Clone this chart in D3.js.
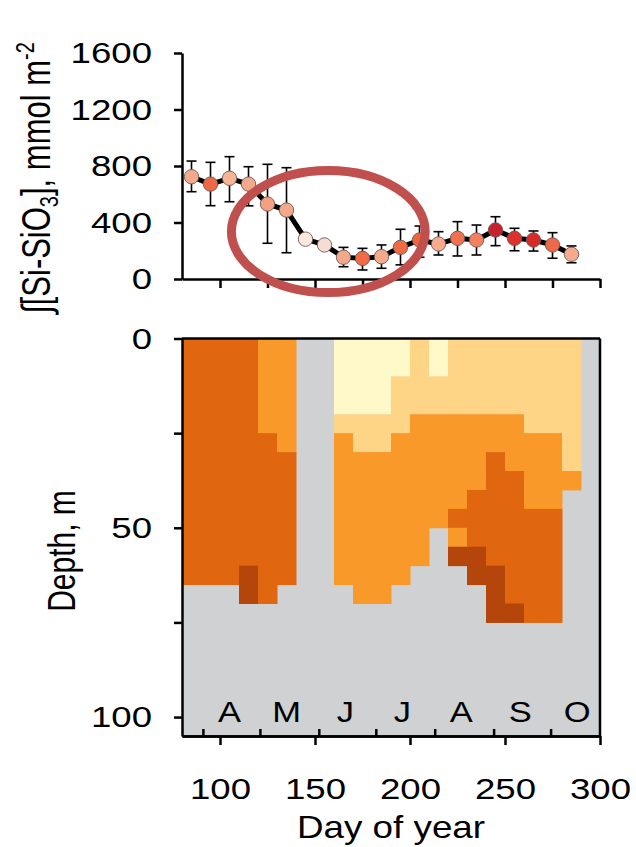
<!DOCTYPE html>
<html><head><meta charset="utf-8">
<script src="https://cdn.jsdelivr.net/npm/d3@7/dist/d3.min.js"></script>
<style>
body{margin:0;background:#fff}
text{font-family:"Liberation Sans",Arial,Helvetica,sans-serif;fill:#000}
</style>
</head><body>
<svg id="chart" width="636" height="847"></svg>
<script>
// ---------- data ----------
const sampleDays = [85,95,105,115,125,135,145,155,165,175,185,195,205,215,225,235,245,255,265,275,285];
const siValues   = [724,672,713,672,531,488,282,241,154,146,158,224,276,248,288,276,347,288,276,241,175];
const siErrHigh  = [835,826,866,795,812,788,282,241,224,217,241,352,375,335,406,382,441,359,340,328,234];
const siErrLow   = [618,519,547,518,253,186,282,241,87,64,76,100,154,170,163,170,236,200,198,147,115];
const pointColors = ["#F5A98B","#EE6848","#F6B496","#F5A98B","#F5A080","#F5A98B","#FBE9DD","#F6DDD4",
  "#F5A78A","#F16A45","#F5AA8C","#F06A46","#F0653F","#F5AB8C","#F0704F","#F4805F","#C8202C","#DE302F",
  "#D82A2A","#EF684A","#F5AA8C"];
const siTicks = [0,400,800,1200,1600];
const topDayTicks = [100,125,150,175,200,225,250,275,300];
const dayTicks = [100,150,200,250,300];
const monthLabels = ["A","M","J","J","A","S","O"];
const monthMidDays = [105,135,166,196,227,258,288];
const monthStartDays = [91,121,152,182,213,244,274];
const depthTicks = [0,25,50,75,100];
const depthLabels = [0,50,100];
// profile columns: one per 10-day bin, rows of 5 m (0-80 m)
// '.' no data, '1' pale, '2' tan, '3' orange, '4' dark orange, '5' darkest
const profileDays = [85,95,105,115,125,135,145,155,165,175,185,195,205,215,225,235,245,255,265,275,285,295];
const profileClasses = [
  "4444444444444...",
  "4444444444444...",
  "4444444444444...",
  "44444444444455..",
  "33333444444444..",
  "3333334444444...",
  "................",
  "................",
  "1111233333333...",
  "11112233333333..",
  "11112233333333..",
  "1122233333333...",
  "222233333333....",
  "1122333333......",
  "222233333435....",
  "2222333344455...",
  "222233444444555.",
  "222233344444445.",
  "222223333444444.",
  "222223333444444.",
  "22222223........",
  "................"
];
const classColors = {"1":"#FFF9CA","2":"#FED487","3":"#F9992A","4":"#E0660F","5":"#B4460B"};
const rowDepth = 5;

// ---------- layout ----------
const SX = 1.15, SXT = 1.22, SXR = 1.3;
const svg = d3.select("#chart");
const x = d3.scaleLinear().domain([80,300]).range([182,600]);
const ySi = d3.scaleLinear().domain([0,1600]).range([279,53]);
const yD = d3.scaleLinear().domain([0,105]).range([338.5,736]);

function stretchTicks(g){
  g.selectAll(".tick text").each(function(){
    const t = d3.select(this);
    const tx = +t.attr("x") || 0, ty = +t.attr("y") || 0;
    t.attr("x",0).attr("y",0).attr("transform",`translate(${tx},${ty}) scale(${SXT},1)`);
  });
}
function styleAxis(g,size){
  g.select(".domain").attr("stroke","#000").attr("stroke-width",2.5);
  g.selectAll(".tick line").attr("stroke","#000").attr("stroke-width",2.5);
  g.selectAll(".tick text").attr("font-size",size).attr("fill","#000")
   .attr("font-family",'"Liberation Sans",Arial,sans-serif');
}

// ---------- top panel ----------
const topPanel = svg.append("g");
topPanel.append("path").datum(sampleDays.map((d,i)=>[d,siValues[i]]))
  .attr("d", d3.line().x(d=>x(d[0])).y(d=>ySi(d[1])))
  .attr("fill","none").attr("stroke","#000").attr("stroke-width",5).attr("stroke-linejoin","round");
const eb = topPanel.append("g").attr("stroke","#000").attr("stroke-width",1.6);
sampleDays.forEach((d,i)=>{
  if (siErrHigh[i]-siErrLow[i] < 1) return;
  eb.append("line").attr("x1",x(d)).attr("x2",x(d)).attr("y1",ySi(siErrHigh[i])).attr("y2",ySi(siErrLow[i]));
  eb.append("line").attr("x1",x(d)-5).attr("x2",x(d)+5).attr("y1",ySi(siErrHigh[i])).attr("y2",ySi(siErrHigh[i]));
  eb.append("line").attr("x1",x(d)-5).attr("x2",x(d)+5).attr("y1",ySi(siErrLow[i])).attr("y2",ySi(siErrLow[i]));
});
topPanel.selectAll("circle.pt").data(sampleDays).join("circle").attr("class","pt")
  .attr("cx",d=>x(d)).attr("cy",(d,i)=>ySi(siValues[i])).attr("r",7.2)
  .attr("fill",(d,i)=>pointColors[i]).attr("stroke","#6a5a55").attr("stroke-width",0.9);
const topY = topPanel.append("g").attr("transform",`translate(${x(80)},0)`)
  .call(d3.axisLeft(ySi).tickValues(siTicks).tickSize(8).tickPadding(22).tickSizeOuter(0).tickFormat(d3.format("d")));
styleAxis(topY,30); stretchTicks(topY);
const topX = topPanel.append("g").attr("transform",`translate(0,${ySi(0)})`)
  .call(d3.axisBottom(x).tickValues(topDayTicks).tickSize(9).tickFormat("").tickSizeOuter(0));
styleAxis(topX,30);
const yt = svg.append("text").attr("font-size",31)
  .attr("transform",`translate(50,178) scale(${SXR},1) rotate(-90)`).attr("text-anchor","middle");
yt.append("tspan").text("∫[Si-SiO");
yt.append("tspan").text("3").attr("font-size",20).attr("dy",6);
yt.append("tspan").text("], mmol m").attr("dy",-6);
yt.append("tspan").text("-2").attr("font-size",20).attr("dy",-12);

// highlight ring
svg.append("ellipse")
  .attr("cx",x(157)).attr("cy",ySi(336))
  .attr("rx",x(157+51)-x(157)).attr("ry",ySi(0)-ySi(432))
  .attr("fill","none").attr("stroke","#C0504D").attr("stroke-width",9);

// ---------- bottom panel ----------
const bot = svg.append("g");
bot.append("rect").attr("x",x(80)).attr("y",yD(0)).attr("width",x(300)-x(80)).attr("height",yD(105)-yD(0))
  .attr("fill","#CFD1D3");
profileDays.forEach((d,ci)=>{
  const s = profileClasses[ci];
  let r = 0;
  while (r < s.length){
    const c = s[r]; let e = r;
    while (e+1 < s.length && s[e+1] === c) e++;
    if (classColors[c]){
      bot.append("rect").attr("x",x(d-5)).attr("width",x(d+5)-x(d-5)+0.5)
        .attr("y",yD(r*rowDepth)).attr("height",yD((e+1)*rowDepth)-yD(r*rowDepth)+0.5)
        .attr("fill",classColors[c]);
    }
    r = e+1;
  }
});
bot.append("line").attr("x1",x(80)).attr("x2",x(300)).attr("y1",yD(0)).attr("y2",yD(0)).attr("stroke","#000").attr("stroke-width",2.5);
bot.append("line").attr("x1",x(300)).attr("x2",x(300)).attr("y1",yD(0)).attr("y2",yD(105)).attr("stroke","#000").attr("stroke-width",2.5);
bot.selectAll("text.mon").data(monthLabels).join("text").attr("class","mon")
  .attr("font-size",30).attr("text-anchor","middle")
  .attr("transform",(d,i)=>`translate(${x(monthMidDays[i])},722) scale(${SX},1)`).text(d=>d);
const botMonth = bot.append("g").attr("transform",`translate(0,${yD(105)})`)
  .call(d3.axisTop(x).tickValues(monthStartDays).tickSize(7).tickFormat("").tickSizeOuter(0));
styleAxis(botMonth,30);
const botX = bot.append("g").attr("transform",`translate(0,${yD(105)})`)
  .call(d3.axisBottom(x).tickValues(dayTicks).tickSize(9).tickPadding(33).tickSizeOuter(0));
styleAxis(botX,30); stretchTicks(botX);
const botY = bot.append("g").attr("transform",`translate(${x(80)},0)`)
  .call(d3.axisLeft(yD).tickValues(depthTicks).tickSize(8).tickPadding(22).tickSizeOuter(0)
    .tickFormat(d=>depthLabels.includes(d)?d:""));
styleAxis(botY,30); stretchTicks(botY);
svg.append("text").attr("font-size",30).attr("text-anchor","middle")
  .attr("transform",`translate(75,551) scale(${SXR},1) rotate(-90)`).text("Depth, m");
svg.append("text").attr("font-size",32).attr("text-anchor","middle")
  .attr("transform",`translate(${x(190)},838) scale(${SX},1)`).text("Day of year");
</script>
</body></html>
